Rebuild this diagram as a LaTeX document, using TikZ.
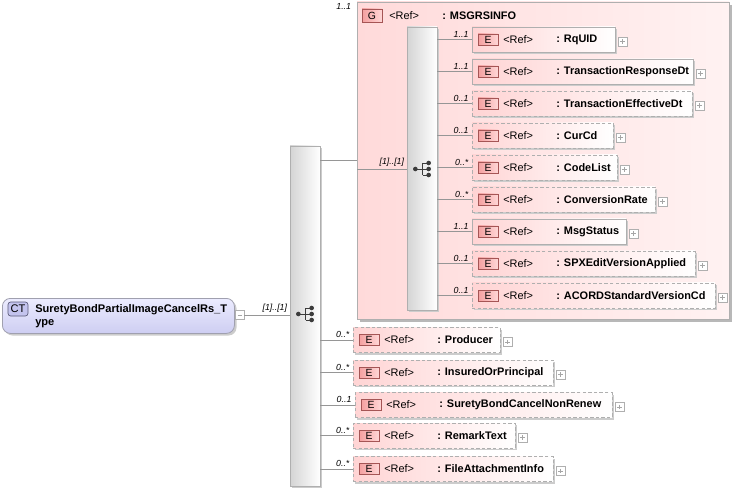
\documentclass[tikz,border=0pt]{standalone}
\usepackage{fontspec}
\setmainfont{Liberation Sans}
\usetikzlibrary{shadows}
\definecolor{linegray}{RGB}{150,150,150}
\definecolor{boxgray}{RGB}{175,175,175}
\definecolor{elempink}{RGB}{255,212,212}
\definecolor{grppink}{RGB}{255,218,218}
\definecolor{grplight}{RGB}{255,242,242}
\definecolor{badgefill}{RGB}{244,160,160}
\definecolor{badgelight}{RGB}{255,214,214}
\definecolor{badgeline}{RGB}{165,85,85}
\definecolor{cttop}{RGB}{236,236,255}
\definecolor{ctbot}{RGB}{206,206,242}
\definecolor{ctline}{RGB}{160,160,175}
\definecolor{ctbadge}{RGB}{196,196,238}
\definecolor{ctbadgeline}{RGB}{90,90,120}
\definecolor{seqgray}{RGB}{212,212,212}
\definecolor{icongray}{RGB}{60,60,60}
\tikzset{
  conn/.style={draw=linegray, line width=.6pt},
  shade/.style={drop shadow={shadow xshift=1.6pt, shadow yshift=-1.6pt, fill=black!20, opacity=1}},
  elembox/.style={draw=boxgray, line width=.6pt, left color=elempink, right color=white,
    minimum height=18.75pt, inner sep=0pt, outer sep=0pt, anchor=west, shade},
  solidbox/.style={solid},
  dashbox/.style={dash pattern=on 2.6pt off 1.6pt},
  seqbox/.style={draw=boxgray, line width=.6pt, left color=seqgray, right color=white,
    minimum width=22.5pt, inner sep=0pt, outer sep=0pt, anchor=north west, shade},
  grpbox/.style={draw=boxgray, line width=.6pt, left color=grppink, right color=grplight,
    inner sep=0pt, outer sep=0pt, anchor=north west,
    drop shadow={shadow xshift=2.2pt, shadow yshift=-2.2pt, fill=black!28, opacity=1}},
  ebadge/.style={draw=badgeline, line width=.5pt, left color=badgefill, right color=badgelight,
    minimum width=15pt, minimum height=8.25pt, inner sep=0pt,
    font=\fontsize{7.8}{8}\selectfont},
  reftxt/.style={font=\fontsize{8.2}{10}\selectfont, inner sep=0pt, anchor=west},
  nametxt/.style={font=\fontsize{8.2}{10}\selectfont\bfseries, inner sep=0pt, anchor=west},
  mult/.style={font=\fontsize{6.6}{7}\selectfont\itshape, inner sep=.5pt, anchor=south east},
  plusbox/.style={draw=boxgray, line width=.4pt, fill=white, minimum size=6.5pt, inner sep=0pt,
    outer sep=0pt, anchor=west,
    path picture={\draw[gray!70, line width=.4pt]
      ([yshift=-1.4pt]path picture bounding box.north) -- ([yshift=1.4pt]path picture bounding box.south)
      ([xshift=1.4pt]path picture bounding box.west) -- ([xshift=-1.4pt]path picture bounding box.east);}},
  minusbox/.style={draw=boxgray, line width=.4pt, fill=white, minimum size=6.5pt, inner sep=0pt,
    outer sep=0pt,
    path picture={\draw[gray!70, line width=.4pt]
      ([xshift=1.4pt]path picture bounding box.west) -- ([xshift=-1.4pt]path picture bounding box.east);}}
}
\begin{document}
\begin{tikzpicture}[x=.75pt,y=-.75pt]
  \useasboundingbox (0,0) rectangle (735,488);
  % complex type
  \node[draw=ctline, line width=.6pt, rounded corners=6pt, top color=cttop, bottom color=ctbot,
    minimum width=174pt, minimum height=26.25pt, inner sep=0pt, anchor=north west, shade]
    (ct) at (2,298) {};
  \node[draw=ctbadgeline, line width=.5pt, rounded corners=2pt, fill=ctbadge, minimum width=15pt,
    minimum height=10.5pt, inner sep=0pt, font=\fontsize{8.3}{9}\selectfont] (ctb) at (18,309) {CT};
  \node[font=\fontsize{8.3}{9.9}\selectfont\bfseries, align=left, inner sep=0pt, anchor=north west]
    (ctt) at (35,304.5) {SuretyBondPartialImageCancelRs\_T\\ype};
  \node[minusbox] (ctm) at (240,315) {};
  % sequences and group
  \node[seqbox, minimum height=255pt] (oseq) at (290,146) {};
  \node[grpbox, minimum width=279pt, minimum height=237.75pt] (grp) at (357,2) {};
  \node[seqbox, minimum height=212.25pt] (iseq) at (407,27) {};
  \coordinate (oi) at (305,314);
  \coordinate (ii) at (422,169);
  \coordinate (gl) at (320,160);
  \draw[conn] (ctm.east) -- (oseq.west |- ctm.east);
  \draw[conn] (gl) -- (grp.west |- gl);
  \draw[conn] (grp.west |- ii) -- (iseq.west |- ii);
  \coordinate (oin) at (oseq.west |- ctm.east);
  \coordinate (iin) at (iseq.west |- ii);
  \node[mult] (om) at ([xshift=-1.5pt,yshift=1pt]oin) {[1]..[1]};
  \node[mult] (im) at ([xshift=-1.5pt,yshift=1pt]iin) {[1]..[1]};
  \node[mult, anchor=east] (gm) at (352,6) {1..1};
  \foreach \p in {oi,ii}{
    \draw[icongray, line width=.7pt] ([xshift=-5pt]\p) -- ([xshift=.5pt]\p)
      ([xshift=.5pt,yshift=4.5pt]\p) -- ([xshift=.5pt,yshift=-4.5pt]\p)
      ([xshift=.5pt,yshift=4.5pt]\p) -- ([xshift=5pt,yshift=4.5pt]\p)
      ([xshift=.5pt]\p) -- ([xshift=5pt]\p)
      ([xshift=.5pt,yshift=-4.5pt]\p) -- ([xshift=5pt,yshift=-4.5pt]\p);
    \fill[icongray] ([xshift=-5pt]\p) circle (2.3)
      ([xshift=5pt,yshift=4.5pt]\p) circle (2.3)
      ([xshift=5pt]\p) circle (2.3)
      ([xshift=5pt,yshift=-4.5pt]\p) circle (2.3);
  }
  % group header
  \node[ebadge, minimum height=9.75pt] (gb) at (372,15.5) {G};
  \node[reftxt] (gr) at (389,15.5) {<Ref>};
  \node[nametxt] (gt) at (442,15.5) {: MSGRSINFO};
  % elements of the group
  \foreach \n/\yy/\ww/\lab/\mlt/\st in {
      rq/39.5/143/RqUID/1..1/solidbox,
      trd/71.5/221/TransactionResponseDt/1..1/solidbox,
      ted/103.5/220/TransactionEffectiveDt/0..1/dashbox,
      cur/135.5/141/CurCd/0..1/dashbox,
      cl/167.5/145/CodeList/0..*/dashbox,
      cr/199.5/183/ConversionRate/0..*/dashbox,
      ms/231.5/154/MsgStatus/1..1/solidbox,
      spx/263.5/223/SPXEditVersionApplied/0..1/dashbox,
      acd/295.5/243/ACORDStandardVersionCd/0..1/dashbox}
  {
    \node[elembox,\st,minimum width=\ww*0.75pt] (\n) at (472,\yy) {};
    \node[ebadge] (\n-b) at ([xshift=12pt]\n.west) {E};
    \node[reftxt] (\n-r) at ([xshift=23.25pt]\n.west) {<Ref>};
    \node[nametxt] (\n-t) at ([xshift=63pt]\n.west) {: \lab};
    \node[plusbox] (\n-p) at ([xshift=2.5pt,yshift=-1.5pt]\n.east) {};
    \draw[conn] (iseq.east |- \n.west) -- (\n.west);
    \node[mult] (\n-m) at ([xshift=-2pt,yshift=1pt]\n.west) {\mlt};
  }
  % elements of the outer sequence
  \foreach \n/\xx/\yy/\ww/\lab/\mlt in {
      pr/353/340/147/Producer/0..*,
      ins/353/372.5/200/InsuredOrPrincipal/0..*,
      sbc/355/405/257/SuretyBondCancelNonRenew/0..1,
      rem/353/435.5/162/RemarkText/0..*,
      fai/353/469/200/FileAttachmentInfo/0..*}
  {
    \node[elembox,dashbox,minimum width=\ww*0.75pt] (\n) at (\xx,\yy) {};
    \node[ebadge] (\n-b) at ([xshift=12pt]\n.west) {E};
    \node[reftxt] (\n-r) at ([xshift=23.25pt]\n.west) {<Ref>};
    \node[nametxt] (\n-t) at ([xshift=63pt]\n.west) {: \lab};
    \node[plusbox] (\n-p) at ([xshift=2.5pt,yshift=-1.5pt]\n.east) {};
    \draw[conn] (oseq.east |- \n.west) -- (\n.west);
    \node[mult] (\n-m) at ([xshift=-2pt,yshift=1pt]\n.west) {\mlt};
  }
\end{tikzpicture}
\end{document}
